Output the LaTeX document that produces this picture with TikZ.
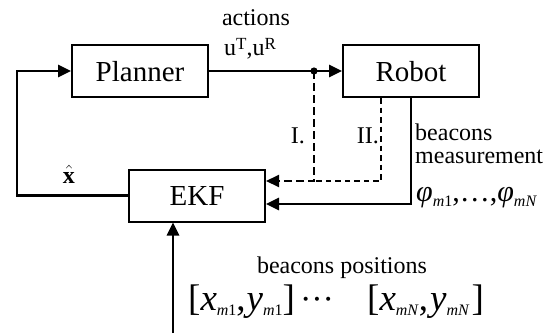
\documentclass[tikz,border=0pt]{standalone}
\usepackage{fontspec}
\usepackage{amsmath}
\setmainfont{Liberation Serif}
\usetikzlibrary{arrows.meta,positioning}
\newcommand{\sbx}[1]{\raisebox{-5pt}{\fontsize{16}{16}\selectfont#1}}
\newcommand{\spx}[1]{\raisebox{6pt}{\fontsize{17}{17}\selectfont#1}}
\tikzset{
  >={Triangle[length=13pt,width=12pt]},
  block/.style={draw,line width=2pt,minimum width=136pt,minimum height=52pt,
    inner sep=0pt,text height=20pt,text depth=0pt,font=\fontsize{29}{34}\selectfont},
  flow/.style={->,line width=2.6pt},
  probe/.style={->,line width=2pt,dash pattern=#1},
  probe/.default={on 8pt off 4pt},
  tag/.style={font=\fontsize{24}{28}\selectfont,inner sep=0pt},
  symb/.style={font=\fontsize{#1}{34}\selectfont,inner sep=0pt},
  symb/.default=29,
}
\begin{document}
\begin{tikzpicture}[x=1pt,y=-1pt]
  \useasboundingbox (0,0) rectangle (555,333);
  % blocks
  \node[block] (planner) at (140,71) {Planner};
  \node[block] (robot) at (411,71) {Robot};
  \node[block] (ekf) at (197,195.5) {EKF};
  % helper points
  \coordinate (split) at (314,71);
  \coordinate (join) at (314,181);
  \coordinate (back) at (17,195.5);
  \coordinate (src) at (173,333);
  % connectors
  \draw[flow] (planner) -- (robot);
  \fill (split) circle (3.6pt);
  \draw[flow] (ekf.west) -- (back) |- (planner.west);
  \draw[probe] (split) -- (join) -- (join -| ekf.east);
  \draw[probe={on 5.5pt off 4pt},-] ([xshift=-30pt]robot.south) |- (join);
  \draw[flow] (robot.south) |- ([yshift=-8.5pt]ekf.east);
  \draw[flow] (src) -- (src |- ekf.south);
  % labels
  \node[tag,anchor=base] (act) at (256,25) {actions};
  \node[tag,anchor=base west] (uin) at (224,55) {u\spx{T},u\spx{R}};
  \node[tag,anchor=base] (xhat) at (69,183) {$\hat{\textbf{x}}$};
  \node[tag,anchor=base east] (one) at (305,143) {I.};
  \node[tag,anchor=base east] (two) at (379,143) {II.};
  \node[tag,anchor=base west] (bcn) at (415,140) {beacons};
  \node[tag,anchor=base west] (meas) at (415,163) {measurement};
  \node[symb=30,anchor=base west] (phi) at (416,201)
    {\textit{φ}\sbx{\textit{m}1},\ldots,\textit{φ}\sbx{\textit{mN}}};
  \node[tag,anchor=base] (pos) at (342,273) {beacons positions};
  \node[symb=37,anchor=base west] (first) at (188,310)
    {[\textit{x}\sbx{\textit{m}1},\hspace{1pt}\textit{y}\sbx{\textit{m}1}]};
  \node[symb=34,anchor=base] (dots) at (317,310) {···};
  \node[symb=37,anchor=base west] (last) at (367,310)
    {[\textit{x}\sbx{\textit{mN}},\hspace{2pt}\textit{y}\sbx{\textit{mN}}\hspace{2pt}]};
\end{tikzpicture}
\end{document}
